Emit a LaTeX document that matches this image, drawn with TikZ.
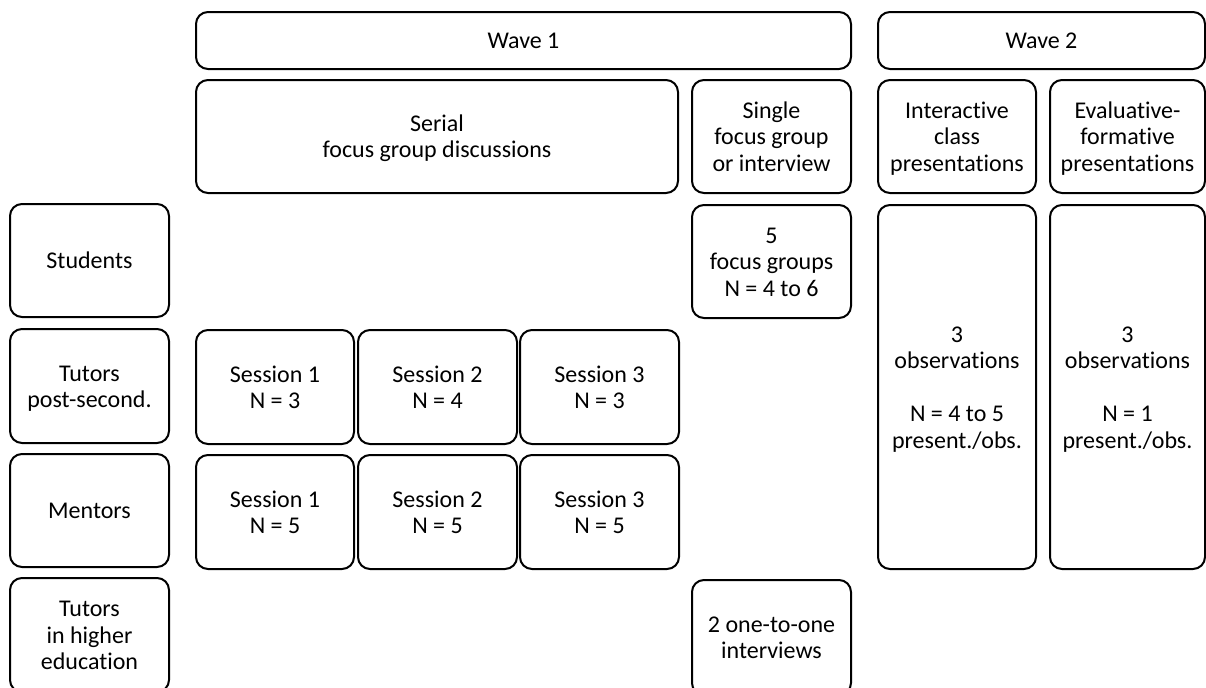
\documentclass[tikz,border=0pt]{standalone}
\usepackage{fontspec}
\setmainfont{Carlito}[Ligatures={NoCommon}]
\tikzset{
  bx/.style={draw=black, line width=1pt, rounded corners=6pt, inner sep=0pt,
    align=center, font=\fontsize{12pt}{13.2pt}\selectfont, text=black}
}
\newcommand\bx[6]{\node[bx, minimum width={(#4-#2)*0.5pt}, minimum height={(#5-#3)*0.5pt}] (#1) at ({(#2+#4)/2},{(#3+#5)/2}) {\rule{0pt}{12.2pt}#6\strut};}
\begin{document}
\begin{tikzpicture}[x=0.5pt,y=-0.5pt]
\useasboundingbox (0,0) rectangle (1206,687);
\clip (0,0) rectangle (1206,687);
\bx{wave1}{196}{12}{851}{69}{Wave 1}
\bx{wave2}{878}{12}{1205}{69}{Wave 2}
\bx{serial}{196}{80}{678}{193}{Serial\\focus group discussions}
\bx{single}{692}{80}{851}{193}{Single\\focus group\\or interview}
\bx{inter}{878}{80}{1036}{193}{Interactive\\class\\presentations}
\bx{evalf}{1050}{80}{1205}{193}{Evaluative-\\formative\\presentations}
\bx{students}{10}{204}{169}{317}{Students}
\bx{fg}{692}{205}{851}{318}{5\\focus groups\\N = 4 to 6}
\bx{obsA}{878}{205}{1036}{569}{3\\observations\\[13.2pt]N = 4 to 5\\present./obs.}
\bx{obsB}{1050}{205}{1205}{569}{3\\observations\\[13.2pt]N = 1\\present./obs.}
\bx{tutors}{10}{329}{169}{443}{Tutors\\post-second.}
\bx{ts1}{196}{330}{354}{444}{Session 1\\N = 3}
\bx{ts2}{358}{330}{517}{444}{Session 2\\N = 4}
\bx{ts3}{520}{330}{679}{444}{Session 3\\N = 3}
\bx{mentors}{10}{454}{169}{567}{Mentors}
\bx{ms1}{196}{455}{354}{569}{Session 1\\N = 5}
\bx{ms2}{358}{455}{517}{569}{Session 2\\N = 5}
\bx{ms3}{520}{455}{679}{569}{Session 3\\N = 5}
\bx{tutorshe}{10}{578}{169}{692}{Tutors\\in higher\\education}
\bx{interviews}{692}{580}{851}{695}{2 one-to-one\\interviews}
\end{tikzpicture}
\end{document}
